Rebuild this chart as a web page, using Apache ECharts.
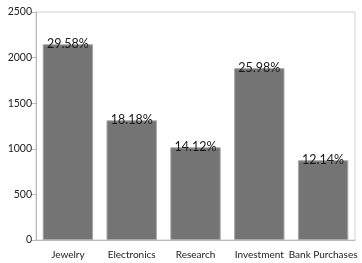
<!DOCTYPE html>
<html><head><meta charset="utf-8">
<script src="https://cdn.jsdelivr.net/npm/echarts@6/dist/echarts.min.js"></script>
<style>html,body{margin:0;padding:0;background:#fff}#c{width:362px;height:263px}</style>
</head><body><div id="c"></div>
<script>
const categories = ["Jewelry", "Electronics", "Research", "Investment", "Bank Purchases"];
const values = [2146, 1312, 1016, 1884, 874];
const percentLabels = ["29.58%", "18.18%", "14.12%", "25.98%", "12.14%"];
const yTicks = [0, 500, 1000, 1500, 2000, 2500];

const chart = echarts.init(document.getElementById('c'), null, {renderer: 'canvas'});
const font = 'Lato, "Noto Sans", sans-serif';
chart.setOption({
  animation: false,
  textStyle: {fontFamily: font},
  grid: {left: 36, right: 7, top: 12, bottom: 23, show: true, borderColor: '#d0d0d0', borderWidth: 1},
  xAxis: {
    type: 'category', data: categories,
    axisLine: {lineStyle: {color: '#b8b8b8'}},
    axisTick: {alignWithLabel: true, length: 5, lineStyle: {color: '#b8b8b8'}},
    axisLabel: {color: '#222', fontSize: 10, fontFamily: font, margin: 10, interval: 0}
  },
  yAxis: {
    type: 'value', min: yTicks[0], max: yTicks[yTicks.length - 1], interval: 500,
    splitLine: {show: false},
    axisLine: {show: true, lineStyle: {color: '#b8b8b8'}},
    axisTick: {show: true, length: 5, lineStyle: {color: '#b8b8b8'}},
    axisLabel: {color: '#222', fontSize: 10.5, fontFamily: font, margin: 4, formatter: v => String(v)}
  },
  series: [{
    type: 'bar', data: values, barWidth: '79%',
    itemStyle: {color: '#747474', borderColor: '#a8a8a8', borderWidth: 1},
    label: {
      show: true, position: 'top', distance: -6,
      formatter: p => percentLabels[p.dataIndex],
      color: '#1a1a1a', fontSize: 12.5, fontFamily: font
    }
  }]
});
</script></body></html>
